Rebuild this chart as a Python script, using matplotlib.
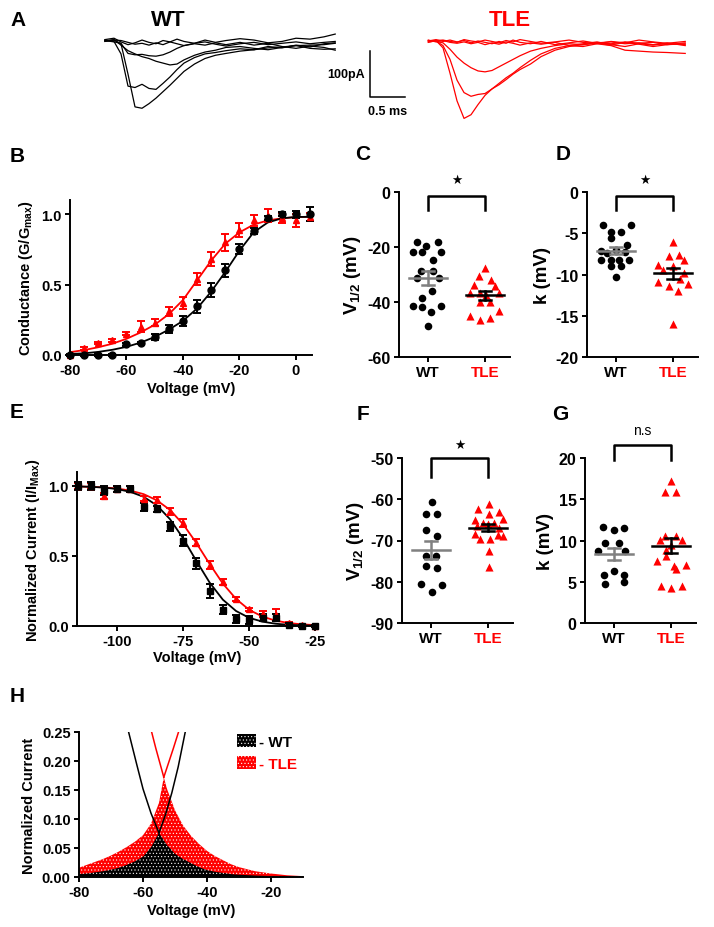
import numpy as np
import matplotlib
matplotlib.use("Agg")
import matplotlib.pyplot as plt
from matplotlib.patches import Patch

plt.rcParams['font.family'] = ['Liberation Sans', 'DejaVu Sans']
plt.rcParams['font.weight'] = 'bold'
plt.rcParams['axes.labelweight'] = 'bold'
plt.rcParams['axes.unicode_minus'] = False
plt.rcParams['mathtext.fontset'] = 'custom'
plt.rcParams['mathtext.rm'] = 'Liberation Sans:bold'
plt.rcParams['mathtext.it'] = 'Liberation Sans:bold'
plt.rcParams['mathtext.bf'] = 'Liberation Sans:bold'
plt.rcParams['mathtext.default'] = 'rm'
plt.rcParams['axes.linewidth'] = 1.4
plt.rcParams['hatch.linewidth'] = 0.4

RED = '#ff0000'
GRAY = '#808080'

# ---------------- A: example traces (ms, pA) ----------------
wt_t = [0.07, 0.2, 0.3, 0.4, 0.5, 0.6, 0.7, 0.8, 0.9, 1.0, 1.1, 1.2, 1.35, 1.5, 1.65, 1.8, 2.0, 2.2, 2.4, 2.6, 2.8, 3.0, 3.2, 3.36]
wt_traces = [
    [0, 2, -6, -72, -143, -146, -136, -124, -110, -96, -81, -66, -50, -38, -31, -27, -22, -19, -15, -13, -10, -9, -8, -5],
    [2, -1, -28, -98, -101, -94, -103, -105, -92, -78, -62, -48, -36, -28, -25, -21, -17, -19, -12, -15, -9, -13, -6, -4],
    [0, 3, -9, -21, -28, -34, -38, -44, -48, -52, -50, -41, -31, -24, -20, -14, -12, -16, -19, -14, -10, -16, -18, -17],
    [1, -2, -5, -27, -30, -29, -32, -33, -30, -24, -16, -10, -6, -9, -4, -8, -3, -9, -5, -12, -16, -11, -14, -20],
    [3, 6, -2, -8, -4, 2, -3, -6, 1, -2, 4, -1, -5, 2, -3, 1, 5, 2, -4, -1, 6, 4, 9, 15],
    [-1, 2, 1, -3, -7, -5, -9, -4, -8, -2, -6, -10, -5, -2, -7, -11, -6, -3, -8, -5, -2, -6, -3, -1],
]
tle_t = [4.69, 4.8, 4.9, 5.0, 5.1, 5.2, 5.3, 5.4, 5.5, 5.6, 5.7, 5.8, 5.9, 6.0, 6.15, 6.3, 6.5, 6.7, 6.9, 7.1, 7.3, 7.5, 7.7, 7.9, 8.1, 8.36]
tle_traces = [
    [0, 1, -15, -70, -130, -168, -160, -138, -118, -104, -95, -84, -72, -62, -50, -34, -20, -12, -8, -4, -6, -2, -5, -3, -8, -6],
    [-2, 0, -10, -40, -85, -112, -120, -116, -114, -104, -92, -80, -70, -58, -42, -28, -16, -10, -12, -6, -10, -20, -22, -24, -25, -27],
    [1, -1, -4, -18, -35, -48, -58, -65, -67, -64, -56, -48, -40, -32, -22, -16, -10, -6, -8, -4, -2, -6, -4, -8, -6, -8],
    [2, -2, 1, -3, -5, -2, -6, -3, -8, -4, -7, -2, -5, -9, -4, -7, -3, -10, -6, -2, -8, -12, -6, -9, -4, -10],
    [0, 3, -1, 2, -2, 1, -4, 0, -3, -6, -1, -5, 2, -3, -6, -1, -8, -4, 0, -5, -9, -3, -7, -12, -8, -4],
    [-3, 1, 2, -1, -3, 3, 0, -2, 2, -1, -4, 1, -2, 3, -1, -5, -2, 2, -3, -6, -1, -4, 2, -2, -5, -1],
]

# ---------------- B: activation ----------------
b_v = [-80, -75, -70, -65, -60, -55, -50, -45, -40, -35, -30, -25, -20, -15, -10, -5, 0, 5]
b_wt = [0.0, 0.0, 0.0, 0.0, 0.075, 0.085, 0.13, 0.185, 0.24, 0.345, 0.46, 0.60, 0.75, 0.88, 0.97, 1.0, 1.0, 1.0]
b_wt_err = [0.005, 0.005, 0.005, 0.005, 0.01, 0.01, 0.02, 0.03, 0.035, 0.045, 0.05, 0.045, 0.035, 0.02, 0.015, 0.015, 0.025, 0.05]
b_tle = [0.0, 0.047, 0.085, 0.105, 0.15, 0.20, 0.23, 0.31, 0.37, 0.54, 0.68, 0.80, 0.89, 0.955, 0.99, 0.975, 0.955, 0.98]
b_tle_err = [0.005, 0.01, 0.01, 0.01, 0.01, 0.04, 0.025, 0.03, 0.04, 0.04, 0.05, 0.06, 0.05, 0.04, 0.045, 0.035, 0.045, 0.03]
b_fit_v = [-80, -75, -70, -65, -60, -55, -50, -45, -40, -35, -30, -25, -20, -15, -10, -5, 0, 5]
b_fit_wt = [0.007, 0.012, 0.022, 0.037, 0.058, 0.088, 0.128, 0.18, 0.242, 0.33, 0.45, 0.59, 0.74, 0.87, 0.94, 0.97, 0.98, 0.98]
b_fit_tle = [0.02, 0.035, 0.055, 0.08, 0.115, 0.16, 0.215, 0.29, 0.39, 0.53, 0.67, 0.79, 0.87, 0.925, 0.955, 0.97, 0.978, 0.982]

# ---------------- C / D: activation V1/2 and k ----------------
c_wt = [-18.1, -18.3, -19.8, -21.7, -21.9, -21.7, -24.6, -28.6, -28.6, -31.4, -31.4, -36.0, -38.7, -41.6, -41.8, -41.6, -43.8, -48.6]
c_wt_jit = [-0.2, 0.18, -0.03, -0.26, -0.11, 0.23, 0.08, -0.12, 0.09, -0.2, 0.19, 0.07, -0.1, -0.26, -0.11, 0.23, 0.06, 0.0]
c_tle = [-27.5, -30.7, -31.9, -33.7, -34.1, -36.7, -36.7, -36.7, -37.5, -40.1, -40.1, -43.4, -45.0, -46.4, -45.8]
c_tle_jit = [0.0, -0.1, 0.1, -0.19, 0.18, -0.26, 0.25, -0.09, 0.02, -0.08, 0.09, 0.25, -0.26, -0.08, 0.09]
c_mean = [-31.2, -37.6]
c_sem = [2.5, 1.7]

d_wt = [-4.0, -4.0, -4.8, -4.85, -5.6, -6.4, -7.1, -7.0, -7.4, -7.3, -8.2, -8.2, -8.2, -8.2, -9.0, -9.0, -10.3]
d_wt_jit = [-0.23, 0.26, -0.09, 0.09, -0.09, 0.2, -0.26, 0.0, -0.15, 0.15, -0.26, -0.09, 0.06, 0.23, -0.09, 0.09, 0.0]
d_tle = [-6.1, -7.6, -7.8, -8.85, -8.2, -9.5, -9.0, -10.95, -11.15, -11.4, -12.0, -16.0, -10.5, -9.8]
d_tle_jit = [0.0, 0.1, -0.07, -0.26, 0.19, -0.17, 0.0, -0.26, 0.27, -0.07, 0.09, 0.0, 0.12, 0.2]
d_mean = [-7.1, -9.85]
d_sem = [0.45, 0.65]

# ---------------- E: inactivation ----------------
e_v = [-115, -110, -105, -100, -95, -90, -85, -80, -75, -70, -65, -60, -55, -50, -45, -40, -35, -30, -25]
e_wt = [1.0, 1.0, 0.967, 0.98, 0.98, 0.85, 0.836, 0.712, 0.61, 0.448, 0.252, 0.117, 0.05, 0.045, 0.06, 0.06, 0.01, 0.0, 0.0]
e_wt_err = [0.03, 0.03, 0.03, 0.02, 0.02, 0.03, 0.02, 0.03, 0.04, 0.04, 0.05, 0.03, 0.03, 0.03, 0.025, 0.025, 0.01, 0.005, 0.005]
e_tle = [1.0, 1.0, 0.93, 0.98, 0.98, 0.91, 0.90, 0.82, 0.736, 0.593, 0.436, 0.314, 0.193, 0.12, 0.086, 0.08, 0.02, 0.005, 0.0]
e_tle_err = [0.02, 0.02, 0.02, 0.02, 0.02, 0.02, 0.02, 0.025, 0.03, 0.025, 0.03, 0.02, 0.015, 0.01, 0.02, 0.04, 0.01, 0.005, 0.005]
e_fit_wt = [0.997, 0.994, 0.989, 0.978, 0.958, 0.923, 0.862, 0.763, 0.625, 0.464, 0.31, 0.188, 0.107, 0.058, 0.031, 0.016, 0.0086, 0.0044, 0.0023]
e_fit_tle = [0.997, 0.994, 0.99, 0.982, 0.967, 0.942, 0.898, 0.829, 0.726, 0.592, 0.443, 0.303, 0.193, 0.115, 0.067, 0.038, 0.021, 0.0116, 0.0064]

# ---------------- F / G: inactivation V1/2 and k ----------------
f_wt = [-60.7, -63.6, -63.6, -67.4, -69.0, -73.7, -73.7, -76.3, -76.7, -80.5, -80.8, -82.6]
f_wt_jit = [0.01, -0.09, 0.11, -0.09, 0.11, 0.09, -0.09, -0.09, 0.11, -0.18, 0.19, 0.01]
f_tle = [-61.2, -62.4, -63.2, -63.6, -65.0, -64.8, -65.8, -65.8, -66.5, -67.0, -68.4, -68.8, -69.6, -69.6, -68.6, -72.5, -76.5, -66.0]
f_tle_jit = [0.02, -0.18, 0.19, 0.02, -0.23, 0.26, -0.09, 0.1, -0.2, 0.2, -0.23, 0.26, -0.14, 0.03, 0.17, 0.02, 0.02, 0.0]
f_mean = [-72.3, -66.9]
f_sem = [2.1, 0.9]

g_wt = [11.6, 11.3, 11.5, 9.7, 9.7, 8.7, 8.7, 6.3, 5.8, 5.8, 4.7, 5.0]
g_wt_jit = [-0.19, 0.0, 0.18, -0.15, 0.09, -0.29, 0.19, 0.0, -0.18, 0.18, -0.16, 0.17]
g_tle = [17.2, 15.9, 15.9, 10.6, 10.6, 10.1, 10.1, 9.5, 8.9, 8.1, 7.5, 7.0, 6.9, 6.5, 4.45, 4.2, 4.45]
g_tle_jit = [0.0, -0.1, 0.09, -0.1, 0.09, -0.2, 0.2, 0.0, -0.09, -0.09, -0.25, 0.26, 0.05, 0.09, -0.18, 0.0, 0.19]
g_mean = [8.35, 9.35]
g_sem = [0.75, 0.9]

# ---------------- H: window current ----------------
h_wt_v = [-80, -77.5, -75, -72.5, -70, -67.5, -65, -62.5, -60, -57.5, -55, -52.5, -50, -47.5, -45, -42.5, -40, -37.5, -35, -32.5, -30, -25, -20, -15, -10]
h_wt = [0.005, 0.006, 0.008, 0.01, 0.0125, 0.016, 0.021, 0.027, 0.035, 0.051, 0.076, 0.055, 0.040, 0.031, 0.024, 0.017, 0.012, 0.009, 0.007, 0.005, 0.004, 0.0025, 0.0015, 0.001, 0.0005]
h_tle_v = [-80, -77.5, -75, -72.5, -70, -67.5, -65, -62.5, -60, -57.5, -55, -53.5, -52.5, -50, -47.5, -45, -42.5, -40, -37.5, -35, -32.5, -30, -25, -20, -15, -10]
h_tle = [0.016, 0.021, 0.026, 0.031, 0.037, 0.044, 0.052, 0.061, 0.072, 0.092, 0.128, 0.172, 0.152, 0.115, 0.089, 0.071, 0.057, 0.045, 0.036, 0.029, 0.022, 0.017, 0.010, 0.006, 0.003, 0.0015]
h_wt_inact_v = [-64.5, -62, -60, -57.5, -55]
h_wt_inact = [0.25, 0.195, 0.152, 0.11, 0.076]
h_wt_act_v = [-55, -53, -51, -49, -46.8]
h_wt_act = [0.076, 0.107, 0.145, 0.19, 0.25]
h_tle_inact_v = [-57.3, -56, -54.7, -53.5]
h_tle_inact = [0.25, 0.222, 0.196, 0.172]
h_tle_act_v = [-53.5, -52, -50.5, -48.9]
h_tle_act = [0.172, 0.197, 0.222, 0.25]

W, H = 714, 928
fig = plt.figure(figsize=(W / 100, H / 100), dpi=100)


def add_ax(l, t, r, b):
    return fig.add_axes([l / W, 1 - b / H, (r - l) / W, (b - t) / H])


def style(ax, size):
    ax.spines['top'].set_visible(False)
    ax.spines['right'].set_visible(False)
    ax.tick_params(direction='out', length=3.5, width=1.4, labelsize=size, pad=2.5)


def letter(x, y, s):
    fig.text(x / W, 1 - y / H, s, ha='center', va='center', fontsize=15, weight='bold')


# ---- A ----
axA = add_ax(100, 30, 700, 130)
axA.axis('off')
for tr in wt_traces:
    axA.plot(wt_t, tr, color='black', lw=0.9)
for tr in tle_traces:
    axA.plot(tle_t, tr, color=RED, lw=0.9)
axA.plot([3.857, 3.857, 4.357], [-21.7, -121.7, -121.7], color='black', lw=1.1)
axA.text(3.79, -72, '100pA', ha='right', va='center', fontsize=9)
axA.text(4.11, -152, '0.5 ms', ha='center', va='center', fontsize=9)
axA.set_xlim(0, 8.571)
axA.set_ylim(-191, 26)
fig.text(168 / W, 1 - 20 / H, 'WT', ha='center', va='center', fontsize=16, weight='bold')
fig.text(510 / W, 1 - 20 / H, 'TLE', ha='center', va='center', fontsize=16, weight='bold', color=RED)

# ---- B ----
axB = add_ax(70, 201, 312, 356)
style(axB, 10.5)
axB.plot(b_fit_v, b_fit_tle, color=RED, lw=1.3)
axB.plot(b_fit_v, b_fit_wt, color='black', lw=1.3)
axB.errorbar(b_v, b_tle, yerr=b_tle_err, fmt='^', ms=5, color=RED, capsize=2.6,
             elinewidth=1.4, capthick=1.4, clip_on=False)
axB.errorbar(b_v, b_wt, yerr=b_wt_err, fmt='o', ms=5, color='black', capsize=2.6,
             elinewidth=1.4, capthick=1.4, clip_on=False)
axB.set_xlim(-80, 5.7)
axB.set_ylim(0, 1.1)
axB.set_xticks([-80, -60, -40, -20, 0])
axB.set_yticks([0.0, 0.5, 1.0])
axB.set_yticklabels(['0.0', '0.5', '1.0'])
axB.set_xlabel('Voltage (mV)', fontsize=10.5, labelpad=3)
axB.set_ylabel('Conductance (G/G$_{max}$)', fontsize=10.5, labelpad=4)


def scatter_panel(ax, wt, wt_jit, tle, tle_jit, mean, sem, ylim, ticks, ylabel, sig, sig_y, br):
    style(ax, 11.5)
    ax.scatter(np.array(wt_jit), wt, s=30, marker='o', color='black', linewidths=0, zorder=3)
    ax.scatter(1 + np.array(tle_jit), tle, s=34, marker='^', color=RED, linewidths=0, zorder=3)
    for i, c in enumerate([GRAY, 'black']):
        ax.plot([i - 0.34, i + 0.34], [mean[i], mean[i]], color=c, lw=1.8, zorder=4)
        ax.plot([i, i], [mean[i] - sem[i], mean[i] + sem[i]], color=c, lw=1.8, zorder=4)
        for s in (-1, 1):
            ax.plot([i - 0.1, i + 0.1], [mean[i] + s * sem[i]] * 2, color=c, lw=1.8, zorder=4)
    ax.plot([0, 0, 1, 1], [br[1], br[0], br[0], br[1]], color='black', lw=1.8, clip_on=False)
    if sig == 'star':
        ax.text(0.5, sig_y, '★', ha='center', va='center', fontsize=9)
    else:
        ax.text(0.5, sig_y, sig, ha='center', va='center', fontsize=10, weight='normal')
    ax.set_xlim(-0.51, 1.44)
    ax.set_ylim(*ylim)
    ax.set_yticks(ticks)
    ax.set_xticks([0, 1])
    ax.set_xticklabels(['WT', 'TLE'], fontsize=11)
    ax.get_xticklabels()[1].set_color(RED)
    ax.set_ylabel(ylabel, fontsize=13.5, labelpad=3)


axC = add_ax(399, 193, 510, 358)
scatter_panel(axC, c_wt, c_wt_jit, c_tle, c_tle_jit, c_mean, c_sem, (-60, 0), [0, -20, -40, -60],
              'V$_{1/2}$ (mV)', 'star', 4.5, (-1.3, -6.5))
axD = add_ax(587, 193, 698, 358)
scatter_panel(axD, d_wt, d_wt_jit, d_tle, d_tle_jit, d_mean, d_sem, (-20, 0), [0, -5, -10, -15, -20],
              'k (mV)', 'star', 1.5, (-0.45, -2.2))

# ---- E ----
axE = add_ax(77, 473, 318, 627)
style(axE, 10.5)
axE.plot(e_v, e_fit_tle, color=RED, lw=1.3)
axE.plot(e_v, e_fit_wt, color='black', lw=1.3)
axE.errorbar(e_v, e_tle, yerr=e_tle_err, fmt='^', ms=5, color=RED, capsize=2.6,
             elinewidth=1.4, capthick=1.4, clip_on=False)
axE.errorbar(e_v, e_wt, yerr=e_wt_err, fmt='s', ms=5, color='black', capsize=2.6,
             elinewidth=1.4, capthick=1.4, clip_on=False)
axE.set_xlim(-115.2, -24)
axE.set_ylim(0, 1.1)
axE.set_xticks([-100, -75, -50, -25])
axE.set_yticks([0.0, 0.5, 1.0])
axE.set_yticklabels(['0.0', '0.5', '1.0'])
axE.set_xlabel('Voltage (mV)', fontsize=10.5, labelpad=1)
axE.set_ylabel('Normalized Current (I/I$_{Max}$)', fontsize=10.5, labelpad=4)

axF = add_ax(402, 459, 513, 624)
scatter_panel(axF, f_wt, f_wt_jit, f_tle, f_tle_jit, f_mean, f_sem, (-90, -50), [-50, -60, -70, -80, -90],
              'V$_{1/2}$ (mV)', 'star', -46.8, (-50.0, -54.5))
axG = add_ax(585, 459, 696, 624)
scatter_panel(axG, g_wt, g_wt_jit, g_tle, g_tle_jit, g_mean, g_sem, (0, 20), [0, 5, 10, 15, 20],
              'k (mV)', 'n.s', 23.4, (21.6, 19.8))

# ---- H ----
axH = add_ax(79, 733, 303, 878)
style(axH, 10.5)
axH.fill_between(h_tle_v, 0, h_tle, facecolor=RED, edgecolor='white', hatch='.....', linewidth=0)
axH.fill_between(h_wt_v, 0, h_wt, facecolor='black', edgecolor='white', hatch='.....', linewidth=0)
axH.plot(h_tle_inact_v, h_tle_inact, color=RED, lw=1.1)
axH.plot(h_tle_act_v, h_tle_act, color=RED, lw=1.1)
axH.plot(h_wt_inact_v, h_wt_inact, color='black', lw=1.1)
axH.plot(h_wt_act_v, h_wt_act, color='black', lw=1.1)
axH.set_xlim(-80, -10)
axH.set_ylim(0, 0.25)
axH.set_xticks([-80, -60, -40, -20])
axH.set_yticks([0, 0.05, 0.10, 0.15, 0.20, 0.25])
axH.set_yticklabels(['0.00', '0.05', '0.10', '0.15', '0.20', '0.25'])
axH.set_xlabel('Voltage (mV)', fontsize=10.5, labelpad=3)
axH.set_ylabel('Normalized Current', fontsize=10.5, labelpad=4)
handles = [Patch(facecolor='black', edgecolor='white', hatch='.....', linewidth=0),
           Patch(facecolor=RED, edgecolor='white', hatch='.....', linewidth=0)]
leg = axH.legend(handles, ['- WT', '- TLE'], loc='upper left', bbox_to_anchor=(0.68, 1.03),
                 frameon=False, fontsize=11, handlelength=1.2, handleheight=1.0,
                 handletextpad=0.2, labelspacing=0.45, borderaxespad=0)
leg.get_texts()[1].set_color(RED)

letter(18, 20, 'A')
letter(17, 157, 'B')
letter(363, 155, 'C')
letter(563, 155, 'D')
letter(17, 413, 'E')
letter(363, 415, 'F')
letter(560, 415, 'G')
letter(17, 697, 'H')

fig.savefig('out.png', dpi=100)
